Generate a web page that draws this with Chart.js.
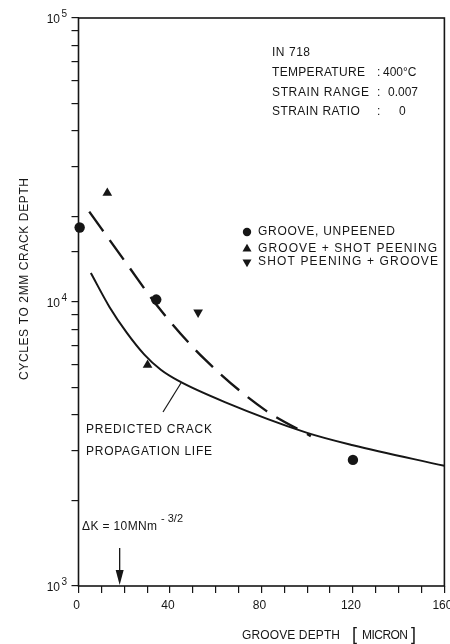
<!DOCTYPE html>
<html>
<head>
<meta charset="utf-8">
<script src="https://cdn.jsdelivr.net/npm/chart.js@4.4.1/dist/chart.umd.min.js"></script>
<style>
  html, body { margin: 0; padding: 0; background: #fff; }
</style>
</head>
<body>
<canvas id="crackChart" width="450" height="644"></canvas>
<script>
const INK = '#161616';
const FONT = '"Liberation Sans", Arial, sans-serif';

// groove depth (micron) vs cycles to 2 mm crack depth
const unpeenedDepth = [0.5, 34, 120];
const unpeenedCycles = [18300, 10200, 2780];

const grooveShotDepth = [12.6, 30.2];
const grooveShotCycles = [24200, 6000];

const shotGrooveDepth = [52.3];
const shotGrooveCycles = [9200];

// predicted crack propagation life (solid)
const predictedDepth = [5.4, 13.6, 21, 28.8, 36, 44, 64, 100, 120, 160];
const predictedCycles = [12650, 9590, 7820, 6530, 5770, 5260, 4440, 3460, 3130, 2650];

// trend through the peened results (dashed)
const trendDepth = [4.7, 20.9, 35.3, 55.5, 81.5, 101.6];
const trendCycles = [20800, 13700, 9500, 6250, 4170, 3370];

// axis labels
const depthLabels = [0, 40, 80, 120, 160];
const decadeExponents = [3, 4, 5];

// depth where delta K = 10 MNm^-3/2
const thresholdDepth = 18;

function toPoints(xs, ys) {
    const pts = [];
    for (let i = 0; i < xs.length; i++) {
        pts.push({ x: xs[i], y: ys[i] });
    }
    return pts;
}

// stretch a string to a given width with letter spacing
function fitText(ctx, text, x, y, width) {
    ctx.letterSpacing = '0px';
    const w = ctx.measureText(text).width;
    const gap = (width - w) / Math.max(text.length - 1, 1);
    ctx.letterSpacing = gap.toFixed(2) + 'px';
    ctx.fillText(text, x, y);
    ctx.letterSpacing = '0px';
}

const notesPlugin = {
    id: 'notes',
    afterDraw(chart) {
        const ctx = chart.ctx;
        const a = chart.chartArea;
        const xs = chart.scales.x;
        const ys = chart.scales.y;
        ctx.save();

        // frame
        ctx.strokeStyle = INK;
        ctx.lineWidth = 1.6;
        ctx.strokeRect(a.left, a.top, a.right - a.left, a.bottom - a.top);

        ctx.fillStyle = INK;
        ctx.textBaseline = 'middle';

        // x tick labels
        ctx.font = '12px ' + FONT;
        ctx.textAlign = 'center';
        depthLabels.forEach(v => {
            ctx.fillText(String(v), xs.getPixelForValue(v) - 2, 606);
        });

        // y tick labels 10^n
        decadeExponents.forEach(e => {
            const py = ys.getPixelForValue(Math.pow(10, e));
            ctx.font = '12px ' + FONT;
            ctx.textAlign = 'right';
            ctx.fillText('10', 60, py + 2);
            ctx.font = '10px ' + FONT;
            ctx.textAlign = 'left';
            ctx.fillText(String(e), 61.5, py - 4);
        });

        ctx.textAlign = 'left';
        ctx.font = '12px ' + FONT;

        // y axis title
        ctx.save();
        ctx.translate(25, 380);
        ctx.rotate(-Math.PI / 2);
        fitText(ctx, 'CYCLES TO 2MM CRACK DEPTH', 0, 0, 202);
        ctx.restore();

        // x axis title
        fitText(ctx, 'GROOVE DEPTH', 242, 636, 98);
        fitText(ctx, 'MICRON', 362, 636, 46);
        ctx.font = '18px ' + FONT;
        ctx.fillText('[', 352, 635);
        ctx.fillText(']', 411, 635);
        ctx.font = '12px ' + FONT;

        // test conditions
        fitText(ctx, 'IN 718', 272, 53, 38);
        fitText(ctx, 'TEMPERATURE', 272, 73, 93);
        fitText(ctx, 'STRAIN RANGE', 272, 93, 97);
        fitText(ctx, 'STRAIN RATIO', 272, 112, 88);
        ctx.fillText(':', 377, 73);
        ctx.fillText(':', 377, 93);
        ctx.fillText(':', 377, 112);
        ctx.fillText('400°C', 383, 73);
        ctx.fillText('0.007', 388, 93);
        ctx.fillText('0', 399, 112);

        // legend
        const legend = [
            { text: 'GROOVE, UNPEENED', style: 'circle', rotation: 0, radius: 4.2, y: 232, w: 137 },
            { text: 'GROOVE + SHOT PEENING', style: 'triangle', rotation: 0, radius: 5.2, y: 249, w: 179 },
            { text: 'SHOT PEENING + GROOVE', style: 'triangle', rotation: 180, radius: 5.2, y: 262, w: 180 }
        ];
        legend.forEach(item => {
            ctx.fillStyle = INK;
            Chart.helpers.drawPoint(ctx, {
                pointStyle: item.style,
                rotation: item.rotation,
                radius: item.radius,
                borderWidth: 0
            }, 247, item.y);
            fitText(ctx, item.text, 258, item.y, item.w);
        });

        // curve annotation with leader
        fitText(ctx, 'PREDICTED CRACK', 86, 430, 126);
        fitText(ctx, 'PROPAGATION LIFE', 86, 452, 126);
        ctx.lineWidth = 1.2;
        ctx.beginPath();
        ctx.moveTo(163, 412);
        ctx.lineTo(181, 383);
        ctx.stroke();

        // delta K marker
        const ax = xs.getPixelForValue(thresholdDepth);
        ctx.lineWidth = 1.3;
        ctx.beginPath();
        ctx.moveTo(ax, a.bottom - 38);
        ctx.lineTo(ax, a.bottom - 12);
        ctx.stroke();
        ctx.beginPath();
        ctx.moveTo(ax - 4, a.bottom - 16);
        ctx.lineTo(ax + 4, a.bottom - 16);
        ctx.lineTo(ax, a.bottom - 1);
        ctx.closePath();
        ctx.fill();

        ctx.font = '12px ' + FONT;
        fitText(ctx, '\u0394K = 10MNm', 82, 527, 75);
        ctx.font = '11px ' + FONT;
        ctx.fillText('- 3/2', 161, 519);

        ctx.restore();
    }
};

const data = {
    datasets: [
        {
            label: 'Predicted crack propagation life',
            data: toPoints(predictedDepth, predictedCycles),
            showLine: true,
            borderColor: INK,
            borderWidth: 2,
            pointRadius: 0,
            cubicInterpolationMode: 'monotone'
        },
        {
            label: 'Peened trend',
            data: toPoints(trendDepth, trendCycles),
            showLine: true,
            borderColor: INK,
            borderWidth: 2.4,
            borderDash: [24, 11],
            pointRadius: 0,
            cubicInterpolationMode: 'monotone'
        },
        {
            label: 'Groove, unpeened',
            data: toPoints(unpeenedDepth, unpeenedCycles),
            pointStyle: 'circle',
            pointRadius: 5.2,
            backgroundColor: INK,
            borderColor: INK,
            borderWidth: 0,
            clip: false
        },
        {
            label: 'Groove + shot peening',
            data: toPoints(grooveShotDepth, grooveShotCycles),
            pointStyle: 'triangle',
            pointRadius: 5.6,
            backgroundColor: INK,
            borderColor: INK,
            borderWidth: 0,
            clip: false
        },
        {
            label: 'Shot peening + groove',
            data: toPoints(shotGrooveDepth, shotGrooveCycles),
            pointStyle: 'triangle',
            rotation: 180,
            pointRadius: 5.6,
            backgroundColor: INK,
            borderColor: INK,
            borderWidth: 0,
            clip: false
        }
    ]
};

const config = {
    type: 'scatter',
    data: data,
    options: {
        responsive: false,
        animation: false,
        devicePixelRatio: 1,
        layout: { padding: { top: 18, right: 4, left: 0, bottom: 0 } },
        plugins: {
            legend: { display: false },
            tooltip: { enabled: false }
        },
        scales: {
            x: {
                type: 'linear',
                min: 0,
                max: 160,
                ticks: { stepSize: 10, display: false },
                grid: { drawOnChartArea: false, drawTicks: true, tickLength: 7, color: INK, lineWidth: 1.2 },
                border: { display: false },
                afterFit(scale) { scale.height = 58; }
            },
            y: {
                type: 'logarithmic',
                min: 1000,
                max: 100000,
                ticks: { display: false },
                grid: { drawOnChartArea: false, drawTicks: true, tickLength: 7, color: INK, lineWidth: 1.2 },
                border: { display: false },
                afterFit(scale) { scale.width = 78.5; }
            }
        }
    },
    plugins: [notesPlugin]
};

const crackChart = new Chart(document.getElementById('crackChart'), config);
</script>
</body>
</html>
